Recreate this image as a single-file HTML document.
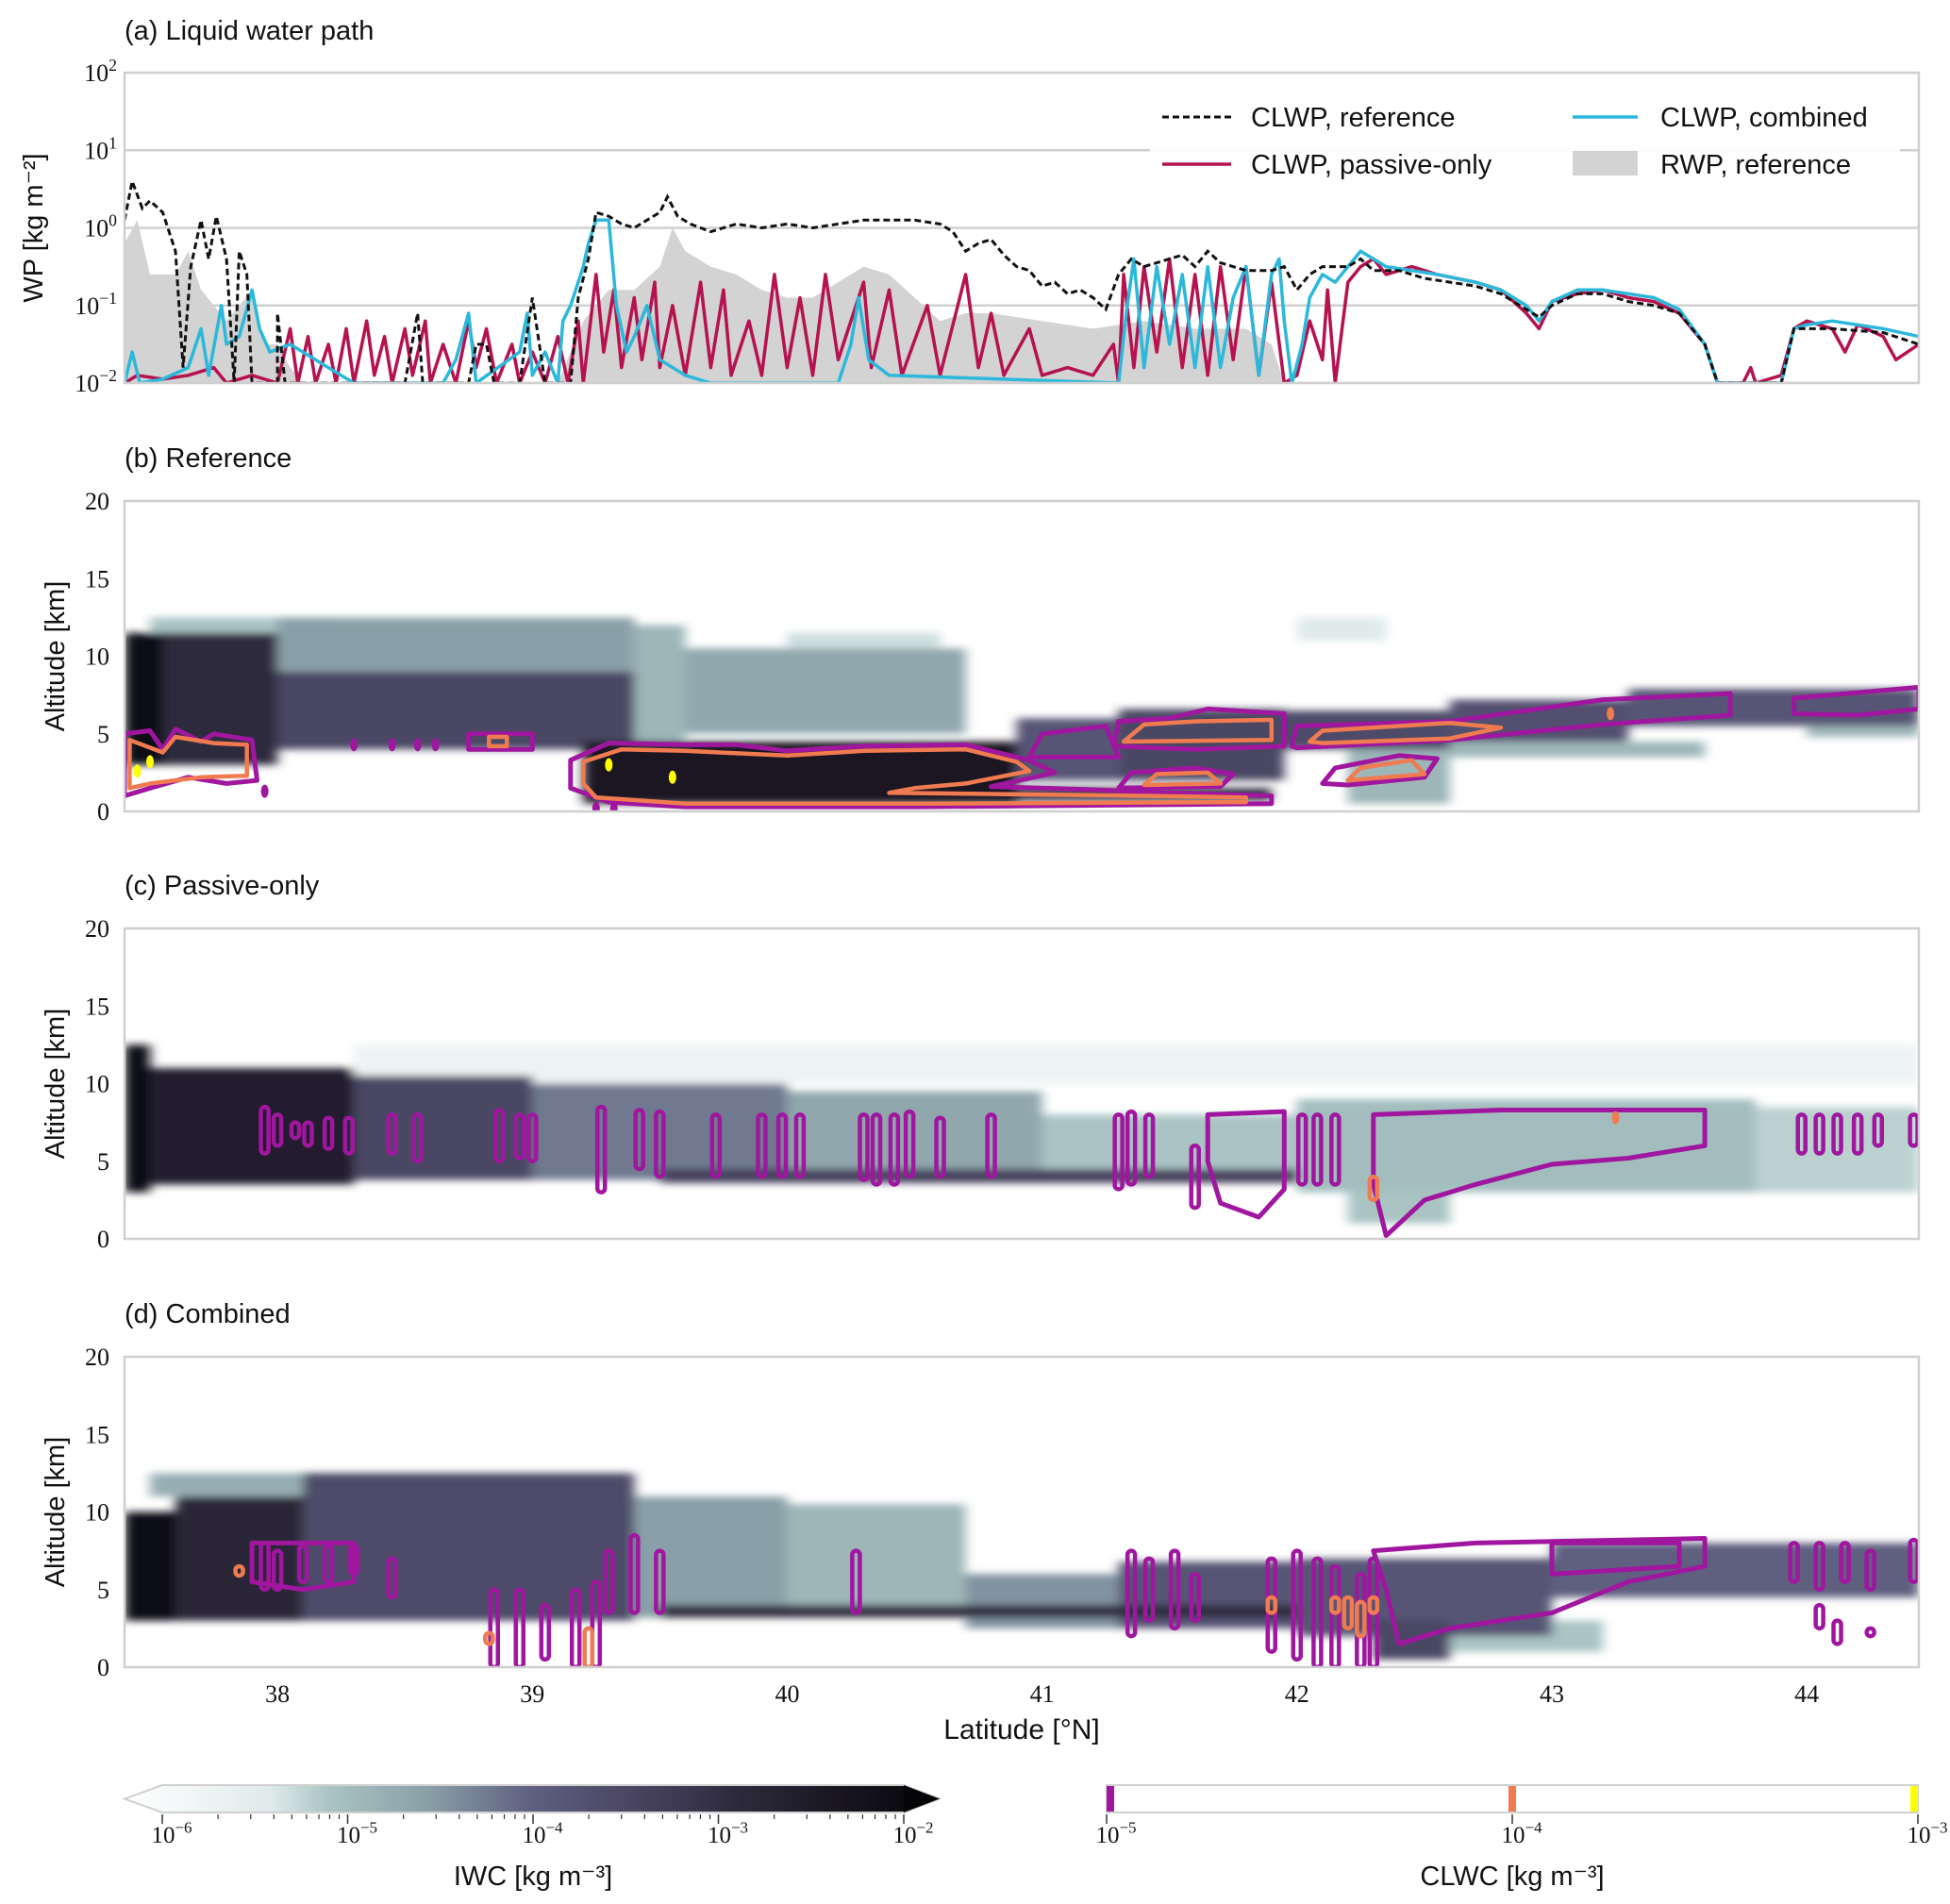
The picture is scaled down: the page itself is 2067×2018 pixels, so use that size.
<!DOCTYPE html>
<html><head><meta charset="utf-8"><style>
html,body{margin:0;padding:0;background:#fff}
svg{display:block}
.t{font-family:"Liberation Sans",sans-serif;fill:#111}
.s{font-family:"Liberation Serif",serif;fill:#111}
</style></head><body>
<svg id="fig" width="2067" height="2018" viewBox="0 0 2067 2018" xmlns="http://www.w3.org/2000/svg">
<defs>
<filter id="soft" filterUnits="userSpaceOnUse" x="0" y="0" width="2067" height="2018"><feGaussianBlur stdDeviation="6 4"/></filter>
<clipPath id="clipA"><rect x="132" y="77" width="1902" height="329"/></clipPath>
<clipPath id="clipB"><rect x="132" y="531" width="1902" height="329"/></clipPath>
<clipPath id="clipC"><rect x="132" y="984" width="1902" height="329"/></clipPath>
<clipPath id="clipD"><rect x="132" y="1438" width="1902" height="329"/></clipPath>
<linearGradient id="iwcGrad" x1="0" x2="1" y1="0" y2="0">
<stop offset="0" stop-color="#ffffff"/><stop offset="0.18" stop-color="#dfeaea"/><stop offset="0.25" stop-color="#a9c4c3"/><stop offset="0.37" stop-color="#8aa0a8"/><stop offset="0.5" stop-color="#5e5f80"/><stop offset="0.62" stop-color="#4a4663"/><stop offset="0.75" stop-color="#2e2a3d"/><stop offset="0.87" stop-color="#1a1722"/><stop offset="1" stop-color="#050407"/>
</linearGradient>
</defs>
<g id="root"></g>
</svg>
<script>
// ---------- data ----------
const latTicks = [38,39,40,41,42,43,44];
const wpTicks = [-2,-1,0,1,2];
const altTicks = [0,5,10,15,20];
const clwpRef = [[37.40,0.1],[37.43,0.6],[37.47,0.25],[37.5,0.35],[37.55,0.2],[37.6,-0.3],[37.63,-1.8],[37.66,-0.5],[37.7,0.1],[37.73,-0.4],[37.76,0.15],[37.8,-0.4],[37.83,-2],[37.85,-0.3],[37.88,-0.6],[37.9,-2],[38.0,-2],[38.0,-1.1],[38.03,-2],[38.5,-2],[38.55,-1.1],[38.57,-2],[38.75,-2],[38.78,-1.5],[38.82,-1.5],[38.85,-2],[38.95,-2],[39.0,-0.9],[39.05,-2],[39.15,-2],[39.18,-0.9],[39.22,-0.4],[39.25,0.2],[39.3,0.15],[39.35,0.05],[39.4,0.0],[39.45,0.1],[39.5,0.2],[39.53,0.4],[39.57,0.15],[39.62,0.05],[39.7,-0.05],[39.8,0.05],[39.9,0.0],[40.0,0.05],[40.1,0.0],[40.2,0.05],[40.3,0.1],[40.4,0.1],[40.5,0.1],[40.6,0.05],[40.65,-0.05],[40.7,-0.3],[40.75,-0.2],[40.8,-0.15],[40.85,-0.35],[40.9,-0.5],[40.95,-0.55],[41.0,-0.75],[41.05,-0.7],[41.1,-0.85],[41.15,-0.8],[41.2,-0.9],[41.25,-1.05],[41.3,-0.6],[41.35,-0.4],[41.4,-0.5],[41.5,-0.4],[41.55,-0.35],[41.6,-0.5],[41.65,-0.3],[41.7,-0.45],[41.8,-0.55],[41.9,-0.55],[41.95,-0.5],[42.0,-0.8],[42.05,-0.6],[42.1,-0.5],[42.2,-0.5],[42.25,-0.4],[42.3,-0.55],[42.4,-0.55],[42.5,-0.65],[42.6,-0.7],[42.7,-0.75],[42.8,-0.85],[42.9,-1.05],[42.95,-1.15],[43.0,-1.0],[43.1,-0.85],[43.2,-0.85],[43.3,-0.95],[43.4,-1.0],[43.5,-1.1],[43.6,-1.5],[43.65,-2],[43.9,-2],[43.95,-1.3],[44.1,-1.3],[44.3,-1.35],[44.44,-1.5]];
const clwpPassive = [[37.40,-2],[37.45,-1.9],[37.55,-1.95],[37.65,-1.9],[37.75,-1.8],[37.8,-2],[37.9,-1.9],[38.0,-2],[38.05,-1.3],[38.08,-2],[38.12,-1.4],[38.15,-2],[38.2,-1.5],[38.23,-2],[38.27,-1.3],[38.3,-2],[38.35,-1.2],[38.38,-1.9],[38.42,-1.4],[38.45,-2],[38.5,-1.3],[38.53,-1.9],[38.58,-1.2],[38.6,-2],[38.65,-1.5],[38.7,-2],[38.75,-1.2],[38.78,-1.8],[38.82,-1.3],[38.86,-2],[38.92,-1.5],[38.95,-2],[39.0,-1.6],[39.05,-2],[39.1,-1.4],[39.14,-2],[39.18,-1.2],[39.2,-2],[39.25,-0.6],[39.28,-1.6],[39.32,-0.8],[39.35,-1.8],[39.4,-0.9],[39.43,-1.7],[39.48,-0.7],[39.5,-1.8],[39.55,-1.0],[39.6,-1.9],[39.66,-0.7],[39.7,-1.8],[39.75,-0.8],[39.78,-1.9],[39.85,-1.2],[39.9,-1.9],[39.95,-0.6],[40.0,-1.8],[40.05,-0.9],[40.1,-1.9],[40.15,-0.6],[40.2,-1.7],[40.3,-0.7],[40.33,-1.8],[40.4,-0.8],[40.45,-1.9],[40.55,-1.0],[40.6,-1.9],[40.7,-0.6],[40.75,-1.8],[40.8,-1.1],[40.85,-1.9],[40.95,-1.3],[41.0,-1.9],[41.1,-1.8],[41.2,-1.9],[41.28,-1.5],[41.3,-2],[41.32,-0.6],[41.36,-1.8],[41.4,-0.5],[41.45,-1.6],[41.5,-0.4],[41.55,-1.8],[41.6,-0.6],[41.65,-1.9],[41.7,-0.5],[41.75,-1.7],[41.8,-0.5],[41.85,-1.9],[41.9,-0.7],[41.95,-2],[42.0,-1.9],[42.05,-1.2],[42.1,-1.7],[42.12,-0.8],[42.15,-2],[42.2,-0.7],[42.25,-0.5],[42.3,-0.4],[42.35,-0.6],[42.45,-0.5],[42.55,-0.6],[42.7,-0.7],[42.8,-0.8],[42.9,-1.1],[42.95,-1.3],[43.0,-0.95],[43.1,-0.85],[43.2,-0.8],[43.3,-0.9],[43.4,-0.95],[43.5,-1.1],[43.6,-1.5],[43.65,-2],[43.75,-2],[43.78,-1.8],[43.8,-2],[43.9,-1.9],[43.95,-1.3],[44.0,-1.2],[44.1,-1.3],[44.15,-1.6],[44.2,-1.25],[44.3,-1.4],[44.35,-1.7],[44.44,-1.5]];
const clwpCombined = [[37.40,-2],[37.43,-1.6],[37.46,-2],[37.55,-1.95],[37.65,-1.8],[37.7,-1.3],[37.73,-1.9],[37.78,-1.0],[37.8,-1.5],[37.85,-1.4],[37.9,-0.8],[37.93,-1.3],[37.97,-1.6],[38.05,-1.5],[38.1,-1.6],[38.2,-1.8],[38.3,-2],[38.65,-2],[38.7,-1.7],[38.75,-1.1],[38.78,-2],[38.95,-1.6],[38.98,-1.1],[39.0,-1.9],[39.05,-1.6],[39.1,-2],[39.12,-1.2],[39.15,-1.0],[39.2,-0.5],[39.22,-0.2],[39.25,0.1],[39.3,0.1],[39.33,-1.0],[39.37,-1.6],[39.4,-1.4],[39.45,-1.0],[39.5,-1.7],[39.6,-1.9],[39.7,-2],[40.2,-2],[40.25,-1.5],[40.28,-0.9],[40.32,-1.7],[40.4,-1.9],[41.3,-2],[41.33,-1.1],[41.36,-0.4],[41.4,-1.8],[41.45,-0.5],[41.5,-1.5],[41.55,-0.6],[41.6,-1.8],[41.65,-0.5],[41.7,-1.8],[41.75,-0.9],[41.8,-0.5],[41.85,-1.9],[41.9,-0.6],[41.93,-0.4],[41.95,-1.2],[41.98,-2],[42.02,-1.5],[42.05,-0.9],[42.1,-0.6],[42.15,-0.7],[42.2,-0.5],[42.25,-0.3],[42.3,-0.4],[42.35,-0.5],[42.45,-0.55],[42.55,-0.6],[42.7,-0.7],[42.8,-0.8],[42.9,-1.0],[42.95,-1.2],[43.0,-0.95],[43.1,-0.8],[43.2,-0.8],[43.3,-0.85],[43.4,-0.9],[43.5,-1.05],[43.6,-1.5],[43.65,-2],[43.9,-2],[43.95,-1.3],[44.0,-1.25],[44.1,-1.2],[44.2,-1.25],[44.3,-1.3],[44.44,-1.4]];
const rwpRef = [[37.40,-0.2],[37.45,0.1],[37.5,-0.6],[37.6,-0.6],[37.65,-0.3],[37.7,-0.8],[37.8,-1.2],[37.9,-0.8],[37.95,-1.5],[38.0,-1.5],[38.05,-1.8],[38.1,-2],[39.1,-2],[39.2,-1.2],[39.3,-0.8],[39.4,-0.8],[39.5,-0.5],[39.55,0.0],[39.6,-0.3],[39.7,-0.5],[39.8,-0.6],[39.9,-0.8],[40.0,-0.9],[40.1,-0.9],[40.2,-0.7],[40.3,-0.5],[40.4,-0.6],[40.5,-0.9],[40.6,-1.2],[40.7,-1.1],[40.8,-1.1],[41.0,-1.2],[41.2,-1.3],[41.4,-1.2],[41.6,-1.3],[41.8,-1.3],[41.9,-1.5],[41.95,-2]];
// ice blocks: [lat0, lat1, alt0, alt1, log10 IWC]
const iceB = [[37.4,37.55,3,11.5,-2.2],[37.55,38.0,3,11.5,-3.0],[37.5,38.2,11.5,12.5,-5],[38.0,39.4,4,9,-3.5],[38.0,39.4,9,12.5,-4.5],[39.4,39.6,4.5,12,-4.8],[39.6,40.7,5,10.5,-4.6],[40.0,40.6,10.5,11.5,-5.2],[39.2,40.9,0.5,4.5,-2.5],[40.9,41.9,0.7,1.5,-3],[40.9,41.3,2,6,-3.8],[41.3,41.95,2,6.6,-3.5],[41.95,42.6,4,6.5,-3.6],[42.6,43.3,4.5,7.2,-3.7],[43.3,44.44,5.5,7.9,-3.8],[42.2,42.6,0.5,4,-4.8],[42.0,42.35,11,12.5,-5.3],[42.6,43.6,3.5,4.5,-4.8],[44.0,44.44,4.8,5.5,-4.8]];
const iceC = [[37.4,37.5,3,12.5,-2.2],[37.5,38.3,3.5,11,-2.7],[38.3,39.0,3.8,10.5,-3.5],[39.0,40.0,3.8,10,-4.2],[40.0,41.0,4,9.5,-4.6],[39.5,42.0,3.6,4.5,-3.4],[41.0,42.0,4.5,8,-5],[42.0,43.8,3,9,-4.9],[43.8,44.44,3,8.5,-5.1],[38.3,44.44,10,12.5,-5.6],[42.2,42.6,1,3,-5]];
const iceD = [[37.4,37.6,3,10,-2.2],[37.6,38.1,3,11,-2.9],[38.1,39.4,3,12.5,-3.6],[37.5,39.4,11,12.5,-4.7],[39.4,40.0,3.2,11,-4.5],[40.0,40.7,3.5,10.5,-4.8],[39.5,42.0,3.2,4,-3.0],[40.7,41.3,2.5,6,-4.4],[41.3,42.0,2.5,6.8,-3.8],[42.0,43.0,2,7,-3.8],[43.0,44.44,4.5,8,-4],[42.3,42.6,0.5,3,-3.5],[42.6,43.2,1,3,-5]];
// liquid contours (lat, alt) polygons
const polyB_p = [
[[39.15,3.3],[39.3,4.4],[39.6,4.3],[39.8,4.3],[40.0,3.9],[40.3,4.2],[40.7,4.3],[40.95,3.3],[41.05,2.5],[40.8,1.6],[41.2,1.4],[41.5,1.2],[41.9,1.0],[41.9,0.5],[40.5,0.3],[39.6,0.3],[39.3,0.6],[39.15,1.5]],
[[41.28,4.2],[41.3,5.8],[41.5,6],[41.65,6.6],[41.95,6.3],[41.95,4.2],[41.6,4.0]],
[[41.98,4.2],[42.0,5.5],[42.6,5.8],[43.2,7.2],[43.7,7.6],[43.7,6.2],[43.2,5.6],[42.6,4.6],[42.0,4.1]],
[[43.95,6.5],[43.95,7.3],[44.44,8],[44.44,6.6],[44.2,6.2],[43.95,6.3]],
[[40.95,3.5],[41.0,5.0],[41.25,5.5],[41.3,3.5]],
[[37.4,1],[37.4,5],[37.5,5.2],[37.55,4],[37.6,5.3],[37.7,4.5],[37.75,5],[37.9,4.6],[37.92,2],[37.8,1.8],[37.65,2.2],[37.5,1.5]],
[[38.75,4],[38.75,5],[39.0,5],[39.0,4]],
[[41.3,1.5],[41.35,2.5],[41.6,2.8],[41.75,2.4],[41.7,1.6]],
[[42.1,1.8],[42.15,2.8],[42.4,3.6],[42.55,3.4],[42.5,2.2],[42.2,1.7]]
];
const polyB_o = [
[[39.2,3.2],[39.35,4.0],[39.6,3.9],[40.0,3.6],[40.3,3.9],[40.7,4.0],[40.9,3.2],[40.95,2.6],[40.7,1.8],[40.5,1.5],[40.4,1.2],[41.4,1.0],[41.8,0.9],[41.8,0.6],[40.5,0.5],[39.6,0.5],[39.25,0.9],[39.2,1.8]],
[[41.32,4.5],[41.4,5.6],[41.6,5.8],[41.9,5.9],[41.9,4.6]],
[[42.05,4.5],[42.1,5.2],[42.6,5.7],[42.8,5.4],[42.6,4.7],[42.1,4.4]],
[[37.42,1.5],[37.42,4.6],[37.55,3.8],[37.6,4.8],[37.75,4.4],[37.88,4.3],[37.88,2.3],[37.7,2.2],[37.5,1.8]],
[[38.83,4.2],[38.83,4.8],[38.9,4.8],[38.9,4.2]],
[[41.4,1.7],[41.45,2.4],[41.65,2.5],[41.7,1.8]],
[[42.2,2.0],[42.25,2.8],[42.45,3.3],[42.5,2.4]]
];
const dotsB = [[37.95,1.3,"p"],[38.3,4.3,"p"],[38.45,4.3,"p"],[38.55,4.3,"p"],[38.62,4.3,"p"],[43.23,6.3,"o"],[37.45,2.6,"y"],[37.5,3.2,"y"],[39.3,3.0,"y"],[39.55,2.2,"y"],[41.75,-0.5,"p"],[39.25,0.2,"p"],[39.32,0.2,"p"]];
// vertical contour loops: [lat, alt0, alt1]
const loopsC = [[37.95,5.5,8.5],[38.0,6,8],[38.07,6.5,7.5],[38.12,6,7.5],[38.2,5.8,7.8],[38.28,5.5,7.8],[38.45,5.5,8],[38.55,5,8],[38.87,5,8.3],[38.95,5.2,8],[39.0,5,8],[39.27,3,8.5],[39.42,4.5,8.3],[39.5,4,8.2],[39.72,4,8],[39.9,4,8],[39.98,4,8],[40.05,4,8],[40.3,3.8,8],[40.35,3.5,8],[40.42,3.5,8],[40.48,4,8.2],[40.6,4,7.8],[40.8,4,8],[41.3,3.2,8],[41.35,3.5,8.2],[41.42,4,8],[41.6,2,6],[42.02,3.5,8],[42.08,3.5,8],[42.15,3.5,8],[43.98,5.5,8],[44.05,5.5,8],[44.12,5.5,8],[44.2,5.5,8],[44.28,6,8],[44.42,6,8]];
const polyC_p = [
[[41.65,8],[41.95,8.2],[41.95,3.2],[41.85,1.4],[41.7,2.3],[41.65,5]],
[[42.3,8],[42.8,8.3],[43.6,8.3],[43.6,6],[43.3,5.2],[43.0,4.8],[42.7,3.5],[42.5,2.5],[42.35,0.2],[42.3,3.5]]
];
const loopsD = [[37.95,5,8],[38.0,5,7.5],[38.1,5.5,7.8],[38.2,5.5,7.8],[38.3,6,7.8],[38.45,4.5,7],[38.85,0,5],[38.95,0,5],[39.05,0.5,4],[39.17,0,5],[39.25,0,5.5],[39.3,3.5,7.5],[39.4,3.5,8.5],[39.5,3.5,7.5],[40.27,3.5,7.5],[41.35,2,7.5],[41.42,3,7],[41.52,2.5,7.5],[41.6,3,6],[41.9,1,7],[42.0,0.5,7.5],[42.08,0,7],[42.15,0,6.5],[42.25,0,6],[42.3,0,7],[43.95,5.5,8],[44.05,5,8],[44.15,5.5,8],[44.25,5,7.5],[44.42,5.5,8.2],[44.05,2.5,4],[44.12,1.5,3],[44.25,2,2.5]];
const polyD_p = [
[[42.3,7.5],[42.7,8],[43.6,8.3],[43.6,6.5],[43.3,5.5],[43.0,3.5],[42.6,2.5],[42.4,1.5],[42.35,5]],
[[43.0,8],[43.0,6],[43.5,6.5],[43.5,8]],
[[37.9,8],[38.3,8],[38.3,5.5],[38.1,5],[37.9,5.5]]
];
const loopsD_o = [[42.15,3.5,4.5],[42.2,2.5,4.5],[42.25,2,4.2],[42.3,3.5,4.5],[41.9,3.5,4.5],[39.22,0,2.5],[38.83,1.5,2.2],[37.85,5.9,6.5]];
const iwcTicks = [-6,-5,-4,-3,-2];
const clwcTicks = [-5,-4,-3];

// ---------- helpers ----------
const NS = "http://www.w3.org/2000/svg";
const root = document.getElementById("root");
const L = 132, R = 2034, H = 329;
const lat0 = 37.4, lat1 = 44.44;
const X = lat => L + (lat - lat0) / (lat1 - lat0) * (R - L);
const YA = v => 77 + (2 - v) / 4 * H;
function mk(tag, attrs, parent) {
  const e = document.createElementNS(NS, tag);
  for (const k in attrs) e.setAttribute(k, attrs[k]);
  (parent || root).appendChild(e);
  return e;
}
const stops = [[-6,[255,255,255]],[-5.3,[223,234,234]],[-5,[169,196,195]],[-4.5,[138,160,168]],[-4,[94,95,128]],[-3.5,[74,70,99]],[-3,[46,42,61]],[-2.5,[26,23,34]],[-2,[5,4,7]]];
function cmap(v) {
  if (v <= -6) return "rgb(255,255,255)";
  for (let i = 1; i < stops.length; i++) {
    if (v <= stops[i][0]) {
      const a = stops[i-1], b = stops[i], t = (v - a[0]) / (b[0] - a[0]);
      const c = a[1].map((x, j) => Math.round(x + (b[1][j] - x) * t));
      return `rgb(${c[0]},${c[1]},${c[2]})`;
    }
  }
  return "rgb(5,4,7)";
}
function txt(x, y, s, cls, size, anchor, name) {
  const t = mk("text", {x: x, y: y, class: cls, "font-size": size, "text-anchor": anchor || "start"});
  
  
  t.textContent = s;
  return t;
}
function pow10(x, y, exp, size, anchor, name) {
  const t = mk("text", {x: x, y: y, class: "s", "font-size": size, "text-anchor": anchor || "end"});
  
  
  const a = document.createElementNS(NS, "tspan"); a.textContent = "10"; t.appendChild(a);
  const b = document.createElementNS(NS, "tspan"); b.setAttribute("dy", -size * 0.42); b.setAttribute("font-size", size * 0.68);
  b.textContent = exp < 0 ? "\u2212" + (-exp) : String(exp); t.appendChild(b);
  return t;
}

// ---------- panel a ----------
txt(132, 42, "(a) Liquid water path", "t", 29, "start", "panel-a-title");
const ga = mk("g", {"clip-path": "url(#clipA)"});


wpTicks.forEach(v => {
  const l = mk("line", {x1: L, x2: R, y1: YA(v), y2: YA(v), stroke: "#d0d0d0", "stroke-width": 2.5}, ga);
  
  
});
function ptsA(arr) { return arr.map(p => X(p[0]).toFixed(1) + "," + YA(Math.max(-2.05, p[1])).toFixed(1)).join(" "); }
const rw = mk("polygon", {points: X(rwpRef[0][0]) + "," + YA(-2.1) + " " + ptsA(rwpRef) + " " + X(rwpRef[rwpRef.length-1][0]) + "," + YA(-2.1), fill: "#d3d3d3"}, ga);


const lp = mk("polyline", {points: ptsA(clwpPassive), fill: "none", stroke: "#b5124f", "stroke-width": 3.5, "stroke-linejoin": "round"}, ga);


const lc = mk("polyline", {points: ptsA(clwpCombined), fill: "none", stroke: "#2bb8da", "stroke-width": 3.5, "stroke-linejoin": "round"}, ga);


const lr = mk("polyline", {points: ptsA(clwpRef), fill: "none", stroke: "#111", "stroke-width": 3, "stroke-dasharray": "7 4"}, ga);


const fa = mk("rect", {x: L, y: 77, width: R - L, height: H, fill: "none", stroke: "#cfcfcf", "stroke-width": 2.5});


wpTicks.forEach(v => pow10(124, YA(v) + 9, v, 26, "end", "wp-tick-label"));
const ya = txt(0, 0, "WP [kg m\u207B\u00B2]", "t", 29, "middle", "y-axis-title-wp");
ya.setAttribute("transform", `translate(45,${77 + H / 2}) rotate(-90)`);
// legend
const lg = mk("g", {});


mk("rect", {x: 1219, y: 99, width: 795, height: 100, fill: "#fff", opacity: 0.9}, lg);
mk("line", {x1: 1232, x2: 1305, y1: 124, y2: 124, stroke: "#111", "stroke-width": 3, "stroke-dasharray": "7 4"}, lg);
mk("line", {x1: 1232, x2: 1305, y1: 174, y2: 174, stroke: "#b5124f", "stroke-width": 3.5}, lg);
mk("line", {x1: 1667, x2: 1736, y1: 124, y2: 124, stroke: "#2bb8da", "stroke-width": 3.5}, lg);
mk("rect", {x: 1667, y: 160, width: 69, height: 26, fill: "#d3d3d3"}, lg);
txt(1326, 134, "CLWP,  reference", "t", 29, "start", "legend-clwp-reference");
txt(1326, 184, "CLWP,  passive-only", "t", 29, "start", "legend-clwp-passive");
txt(1760, 134, "CLWP, combined", "t", 29, "start", "legend-clwp-combined");
txt(1760, 184, "RWP,  reference", "t", 29, "start", "legend-rwp-reference");

// ---------- curtain panels ----------
function panel(top, title, clip, ice, polysP, polysO, loopsP, loopsO, dots, key, showX) {
  const Y = a => top + (20 - a) / 20 * H;
  txt(132, top - 36, title, "t", 29, "start", key + "-title");
  const g = mk("g", {"clip-path": `url(#${clip})`});
  
  
  const gi = mk("g", {filter: "url(#soft)"}, g);
  ice.slice().sort((a, b) => a[4] - b[4]).forEach(b => {
    const r = mk("rect", {x: X(b[0]), y: Y(b[3]), width: X(b[1]) - X(b[0]), height: Y(b[2]) - Y(b[3]), fill: cmap(b[4])}, gi);
    
    
  });
  const poly = (arr, col, w, name) => arr.forEach(p => {
    const e = mk("polygon", {points: p.map(q => X(q[0]).toFixed(1) + "," + Y(q[1]).toFixed(1)).join(" "), fill: "none", stroke: col, "stroke-width": w, "stroke-linejoin": "round"}, g);
    
    
  });
  const loops = (arr, col, w, name) => arr.forEach(l => {
    const x = X(l[0]), y0 = Y(l[2]), y1 = Y(l[1]);
    const e = mk("rect", {x: x - 4, y: y0, width: 8, height: Math.max(6, y1 - y0), rx: 4, fill: "none", stroke: col, "stroke-width": w}, g);
    
    
  });
  poly(polysP, "#a0169f", 5, "clwc-contour-1e-5");
  loops(loopsP, "#a0169f", 4.5, "clwc-contour-1e-5");
  poly(polysO, "#f07b50", 4.5, "clwc-contour-1e-4");
  loops(loopsO, "#f07b50", 4.5, "clwc-contour-1e-4");
  const dc = {p: "#a0169f", o: "#f07b50", y: "#ffff00"};
  dots.forEach(d => {
    const e = mk("ellipse", {cx: X(d[0]), cy: Y(d[1]), rx: 4, ry: 7, fill: dc[d[2]]}, g);
    
    
  });
  const f = mk("rect", {x: L, y: top, width: R - L, height: H, fill: "none", stroke: "#cfcfcf", "stroke-width": 2.5});
  
  
  altTicks.forEach(a => txt(116, Y(a) + 9, String(a), "s", 26, "end", "altitude-tick-label"));
  const yt = txt(0, 0, "Altitude [km]", "t", 29, "middle", key + "-y-axis-title");
  yt.setAttribute("transform", `translate(68,${top + H / 2}) rotate(-90)`);
  if (showX) {
    latTicks.forEach(l => txt(X(l), top + H + 37, String(l), "s", 26, "middle", "latitude-tick-label"));
    txt((L + R) / 2, top + H + 76, "Latitude [\u00B0N]", "t", 30, "middle", "x-axis-title");
  }
}
panel(531, "(b) Reference", "clipB", iceB, polyB_p, polyB_o, [], [], dotsB, "panel-b", false);
panel(984, "(c) Passive-only", "clipC", iceC, polyC_p, [], loopsC, [[42.3,2.5,4]], [[43.25,7.8,"o"]], "panel-c", false);
panel(1438, "(d) Combined", "clipD", iceD, polyD_p, [], loopsD, loopsD_o, [], "panel-d", true);

// ---------- colorbars ----------
const cb1 = mk("g", {});


const c0 = 172, c1 = 958, cy0 = 1892, cy1 = 1921;
mk("polygon", {points: `${c0},${cy0} ${c1},${cy0} 996,${(cy0+cy1)/2} ${c1},${cy1} ${c0},${cy1} 132,${(cy0+cy1)/2}`, fill: "url(#iwcGrad)", stroke: "#d0d0d0", "stroke-width": 2}, cb1);
mk("polygon", {points: `${c1},${cy0} 996,${(cy0+cy1)/2} ${c1},${cy1}`, fill: "#050407"}, cb1);
const IX = v => c0 + (v + 6) / 4 * (c1 - c0);
iwcTicks.forEach(v => {
  mk("line", {x1: IX(v), x2: IX(v), y1: cy1 + 2, y2: cy1 + 12, stroke: "#333", "stroke-width": 1.5}, cb1);
  pow10(IX(v) + 10, 1953, v, 25, "middle", "iwc-tick-label");
});
iwcTicks.slice(0, 4).forEach(v => { for (let m = 2; m < 10; m++) mk("line", {x1: IX(v + Math.log10(m)), x2: IX(v + Math.log10(m)), y1: cy1 + 2, y2: cy1 + 7, stroke: "#333", "stroke-width": 1.2}, cb1); });
txt((c0 + c1) / 2, 1998, "IWC [kg m\u207B\u00B3]", "t", 29, "middle", "iwc-colorbar-label");
const cb2 = mk("g", {});


const d0 = 1173, d1 = 2033;
mk("rect", {x: d0, y: cy0, width: d1 - d0, height: cy1 - cy0, fill: "#fff", stroke: "#d0d0d0", "stroke-width": 2}, cb2);
const CX = v => d0 + (v + 5) / 2 * (d1 - d0);
const ccol = ["#a0169f", "#f07b50", "#ffff00"];
clwcTicks.forEach((v, i) => {
  mk("rect", {x: CX(v) - (i === 0 ? 0 : (i === 2 ? 8 : 4)), y: cy0 + 1, width: 8, height: cy1 - cy0 - 2, fill: ccol[i]}, cb2);
  mk("line", {x1: CX(v), x2: CX(v), y1: cy1 + 2, y2: cy1 + 12, stroke: "#333", "stroke-width": 1.5}, cb2);
  pow10(CX(v) + 10, 1953, v, 25, "middle", "clwc-tick-label");
});
txt((d0 + d1) / 2, 1998, "CLWC [kg m\u207B\u00B3]", "t", 29, "middle", "clwc-colorbar-label");
</script>
</body></html>
